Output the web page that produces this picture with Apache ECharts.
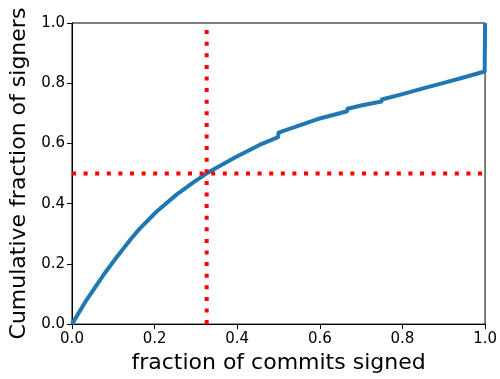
<!DOCTYPE html>
<html>
<head>
<meta charset="utf-8">
<script src="https://cdn.jsdelivr.net/npm/echarts@6/dist/echarts.min.js"></script>
<style>
  html, body { margin: 0; padding: 0; background: #fff; }
  #chart { width: 500px; height: 379px; }
</style>
</head>
<body>
<div id="chart"></div>
<script>
// CDF of fraction of commits signed
const fracSigned = [0, 0.035, 0.076, 0.108, 0.144, 0.164, 0.205, 0.253, 0.293, 0.325, 0.378, 0.398, 0.454,
  0.499, 0.5, 0.551, 0.6, 0.666, 0.667, 0.7, 0.749, 0.75, 0.8, 0.85, 0.9, 0.95, 0.999, 1.0]
const cumSigners = [0, 0.08, 0.163, 0.222, 0.285, 0.317, 0.374, 0.43, 0.47, 0.5, 0.541, 0.556, 0.595,
  0.621, 0.636, 0.66, 0.683, 0.707, 0.715, 0.726, 0.739, 0.746, 0.764, 0.783, 0.801, 0.82, 0.839, 1.0]
// median guide lines
const medianX = 0.326
const medianY = 0.5

const font = 'DejaVu Sans'
const dotted = { color: '#ff0000', width: 4, type: [4, 7.6], cap: 'butt' }

const axisCommon = {
  type: 'value',
  min: 0,
  max: 1,
  interval: 0.2,
  nameLocation: 'middle',
  nameTextStyle: { fontFamily: font, fontSize: 22, color: '#000' },
  axisLine: { show: true, lineStyle: { color: '#000', width: 1 } },
  axisTick: { show: true, length: 5, inside: false, lineStyle: { color: '#000' } },
  axisLabel: {
    fontFamily: font, fontSize: 15, color: '#000',
    formatter: v => v.toFixed(1)
  },
  splitLine: { show: false }
}

const chart = echarts.init(document.getElementById('chart'), null, { renderer: 'canvas' })
chart.setOption({
  animation: false,
  backgroundColor: '#fff',
  grid: { left: 72, top: 23, right: 14, bottom: 53, show: true, borderColor: '#000', borderWidth: 1 },
  xAxis: Object.assign({}, axisCommon, {
    name: 'fraction of commits signed', nameGap: 26,
    axisLabel: Object.assign({}, axisCommon.axisLabel, { margin: 8 })
  }),
  yAxis: Object.assign({}, axisCommon, {
    name: 'Cumulative fraction of signers', nameGap: 39,
    axisLabel: Object.assign({}, axisCommon.axisLabel, { margin: 7 })
  }),
  series: [
    {
      type: 'line',
      data: fracSigned.map((x, i) => [x, cumSigners[i]]),
      symbol: 'none',
      lineStyle: { color: '#1f77b4', width: 4, join: 'round' },
      z: 3
    },
    {
      type: 'line',
      data: [[medianX, 0], [medianX, 1]],
      symbol: 'none',
      lineStyle: dotted,
      z: 4
    },
    {
      type: 'line',
      data: [[0, medianY], [1, medianY]],
      symbol: 'none',
      lineStyle: dotted,
      z: 4
    }
  ]
})
</script>
</body>
</html>
